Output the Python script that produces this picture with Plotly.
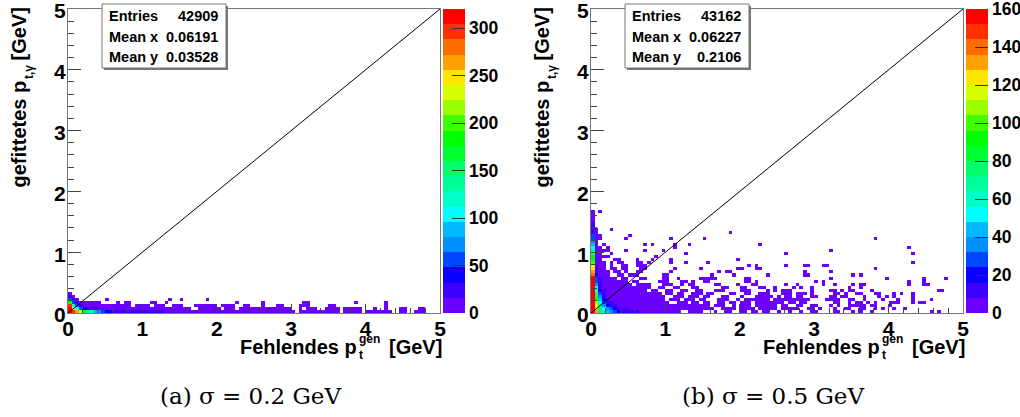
import plotly.graph_objects as go

W, H = 1020, 417
N_BINS = 100
BIN = 0.05

PALETTE = ["#6a00ff", "#3d00ff", "#0a00ff", "#0048ff", "#0090ff", "#00b8ff", "#00ffff", "#00ffc8",
           "#00ff9a", "#00ff6a", "#00ff30", "#00ff00", "#40ff00", "#9cff00", "#d8ff00", "#ffe600",
           "#ffa000", "#ff6c00", "#ff3000", "#ff0000"]

# ---- left panel (sigma = 0.2 GeV): runs of occupied bins per y-bin row
LEFT_RUNS = {
    0: [(0, 60), (62, 72), (74, 78), (80, 84), (85, 86), (89, 90), (93, 95)],
    1: [(0, 32), (35, 40), (42, 44), (46, 48), (49, 51), (52, 55), (56, 59), (62, 62), (64, 66), (69, 72),
        (74, 75), (76, 78), (82, 82), (85, 85), (89, 90), (94, 95)],
    2: [(0, 10), (12, 16), (18, 21), (23, 25), (28, 30), (34, 39), (41, 44), (47, 48), (52, 52), (56, 57),
        (62, 64), (70, 71), (85, 85)],
    3: [(0, 8), (13, 13), (15, 16), (22, 23), (26, 26), (45, 45), (52, 52), (63, 64), (77, 77), (85, 85)],
    4: [(0, 2), (10, 10), (27, 27), (30, 30), (37, 37)],
    5: [(0, 1)],
    6: [(0, 0)],
}
# columns listed from y-bin 0 upward
LEFT_COLUMNS = {
    0: [320, 320, 300, 180, 60, 25, 12],
    1: [300, 240, 100, 60, 25, 14],
    2: [270, 110, 50, 20, 10],
    3: [225, 55, 25, 10],
    4: [175, 40, 14, 8],
    5: [135, 28, 10, 6],
    6: [115, 20, 8, 4],
    7: [90, 16, 6, 3],
    8: [75, 14, 6, 3],
    9: [60, 12, 5],
    10: [45, 10, 4],
    11: [35, 9, 3],
    12: [30, 8, 3],
    13: [26, 7, 3],
    14: [24, 7, 3],
    15: [22, 6, 3],
    16: [20, 6, 3],
    17: [20, 6],
    18: [19, 6, 2],
    19: [18, 5, 2],
    20: [18, 5, 2],
    21: [17, 5, 2],
    22: [17, 5],
    23: [16, 5, 2],
    24: [16, 4, 2],
    25: [16, 4, 2],
    26: [15, 4],
    27: [15, 4],
    28: [15, 4, 2],
    29: [14, 4, 2],
    30: [14, 4, 2],
}
LEFT_DEFAULT = 5

# ---- right panel (sigma = 0.5 GeV)
RIGHT_RUNS = {
    0: [(10, 23), (26, 29), (33, 33), (36, 37), (40, 41), (43, 44), (46, 47), (50, 50), (53, 53), (56, 56),
        (59, 60), (65, 66), (70, 70), (72, 72), (75, 75), (91, 91), (93, 93)],
    1: [(10, 32), (35, 38), (40, 43), (45, 49), (51, 53), (54, 55), (58, 59), (61, 61), (65, 65),
        (68, 69), (72, 73), (76, 76), (78, 78), (81, 81), (84, 84)],
    2: [(10, 31), (33, 35), (38, 38), (40, 42), (44, 48), (49, 49), (51, 52), (55, 56), (59, 60), (64, 64),
        (66, 66), (69, 71), (72, 73), (75, 76), (80, 80)],
    3: [(10, 20), (23, 25), (27, 28), (30, 31), (34, 35), (37, 38), (40, 42), (44, 49), (50, 51), (53, 54), (56, 57),
        (65, 66), (69, 69), (71, 72), (74, 74), (76, 76), (80, 82), (86, 86), (88, 89)],
    4: [(10, 19), (21, 23), (25, 27), (29, 30), (34, 36), (39, 39), (41, 47), (49, 53), (54, 56), (57, 58), (63, 66),
        (69, 70), (73, 73), (78, 78), (82, 82), (86, 86), (91, 91)],
    5: [(10, 19), (22, 24), (26, 28), (30, 31), (35, 36), (40, 40), (44, 48), (50, 50), (52, 53), (55, 56), (59, 60),
        (64, 65), (67, 68), (73, 73), (77, 77), (79, 79), (81, 81), (86, 86)],
    6: [(10, 18), (20, 21), (23, 24), (27, 29), (31, 32), (37, 38), (41, 42), (45, 47), (51, 53), (55, 57), (59, 59),
        (65, 66), (68, 68), (71, 72), (76, 77), (81, 81), (83, 83), (86, 86)],
    7: [(10, 14), (16, 17), (20, 21), (24, 25), (28, 29), (33, 35), (40, 42), (47, 47), (49, 49), (51, 53),
        (59, 59), (64, 65), (67, 67), (69, 70), (75, 75), (93, 94)],
    8: [(10, 15), (18, 19), (22, 23), (27, 28), (35, 36), (40, 41), (45, 46), (49, 49), (54, 54), (56, 56),
        (59, 59), (69, 69), (72, 72)],
    9: [(9, 10), (12, 15), (19, 21), (24, 24), (26, 27), (33, 34), (39, 39), (43, 44), (52, 52), (55, 55),
        (62, 62), (65, 65), (70, 70), (72, 73), (85, 85), (89, 90)],
    10: [(8, 9), (11, 12), (18, 20), (24, 25), (27, 27), (30, 31), (41, 42), (44, 44), (60, 60), (62, 62),
         (85, 85), (89, 89)],
    11: [(8, 9), (13, 14), (19, 20), (23, 23), (29, 31), (32, 33), (41, 42), (64, 64), (79, 79), (89, 89), (95, 95)],
    12: [(7, 8), (10, 10), (11, 12), (19, 20), (32, 32), (38, 38), (47, 47), (57, 58), (70, 70), (72, 72)],
    13: [(6, 7), (9, 9), (12, 13), (21, 21), (34, 34), (36, 37), (57, 57), (64, 64)],
    14: [(5, 6), (8, 9), (13, 14), (22, 22), (29, 29), (39, 40), (44, 45), (76, 76)],
    15: [(5, 5), (8, 9), (12, 14), (42, 42), (44, 44), (52, 52), (57, 58), (62, 63)],
    16: [(5, 5), (7, 8), (12, 13), (15, 15), (21, 21), (25, 25), (31, 31), (86, 86)],
    17: [(6, 7), (12, 12), (16, 16), (21, 21), (39, 39)],
    18: [(3, 4), (17, 17)],
    19: [(5, 5), (25, 25), (52, 52), (86, 86)],
    20: [(3, 4), (9, 9), (14, 14), (19, 19), (64, 64)],
    21: [(2, 2), (4, 4), (22, 22), (85, 85)],
    22: [(3, 3), (14, 14), (16, 16), (22, 22), (26, 26), (45, 45)],
    24: [(2, 2), (9, 9), (21, 21), (30, 30), (76, 76)],
    25: [(2, 2), (10, 10)],
    26: [(37, 37)],
    27: [(5, 5)],
    33: [(2, 2)],
}
RIGHT_COLUMNS = {
    0: [160, 160, 160, 159, 158, 158, 157, 157, 156, 156, 155, 155, 142, 132, 126, 120, 100, 95, 90, 72, 66, 60,
        42, 36, 32, 28, 16, 14, 12, 10, 8, 5, 4, 3],
    1: [130, 125, 115, 105, 95, 85, 70, 60, 50, 40, 32, 26, 20, 16, 12, 10, 8, 7, 6, 5, 5, 4, 4, 3, 3, 2, 2, 1],
    2: [80, 75, 65, 55, 45, 35, 28, 22, 15, 13, 11, 9, 8, 7, 6, 5, 4, 3, 3, 2, 2],
    3: [60, 50, 40, 30, 22, 16, 11, 9, 7, 6, 5, 4, 3, 2, 2, 1, 1],
    4: [45, 38, 24, 15, 11, 8, 6, 5, 4, 3, 3, 2, 2, 1],
    5: [35, 26, 14, 10, 7, 5, 4, 3, 3, 2, 2, 1],
    6: [26, 18, 10, 7, 5, 4, 3, 2, 2, 1, 1, 1],
    7: [20, 13, 8, 5, 4, 3, 3, 2, 2, 1, 1],
    8: [14, 10, 7, 4, 3, 3, 2, 2, 1, 1],
    9: [12, 9, 6, 4, 3, 2, 2, 1, 1],
    10: [11, 8, 5, 3, 2, 2, 1, 1],
    11: [10, 7, 4, 3, 2, 2, 1],
    12: [9, 6, 4, 2, 2, 1],
    13: [8, 5, 3, 2, 1, 1],
    14: [8, 5, 3, 2, 1],
    15: [7, 4, 3, 2, 1],
    16: [7, 4, 2, 2],
}
RIGHT_DEFAULT = 1

DIAG_X = [0, 5]
DIAG_Y = [0, 5]

LEFT_TICKS = [0, 50, 100, 150, 200, 250, 300]
RIGHT_TICKS = [0, 20, 40, 60, 80, 100, 120, 140, 160]
LEFT_ZMAX, RIGHT_ZMAX = 320, 160.1

LEFT_STATS = [("Entries", "42909"), ("Mean x", "0.06191"), ("Mean y", "0.03528")]
RIGHT_STATS = [("Entries", "43162"), ("Mean x", "0.06227"), ("Mean y", "0.2106")]
CAPTIONS = ["(a) σ = 0.2 GeV", "(b) σ = 0.5 GeV"]
AXIS_TICKS = [0, 1, 2, 3, 4, 5]


def px(x):
    return x / W


def py(y):
    return 1 - y / H


def build(runs, columns, default):
    z = [[None] * N_BINS for _ in range(N_BINS)]
    for row, segs in runs.items():
        for a, b in segs:
            for c in range(a, b + 1):
                z[row][c] = default
    for col, vals in columns.items():
        for row, v in enumerate(vals):
            z[row][col] = v
    return z


centers = [(i + 0.5) * BIN for i in range(N_BINS)]
colorscale = []
for i, c in enumerate(PALETTE):
    colorscale += [[i / 20, c], [(i + 1) / 20, c]]

FONT = "Liberation Sans"
AX_COL = "#777777"
TICK_COL = "#444444"

fig = go.Figure()
PANELS = [
    dict(x0=68, bar=443, ax="x", ay="y", runs=LEFT_RUNS, cols=LEFT_COLUMNS, d=LEFT_DEFAULT, zmax=LEFT_ZMAX,
         ticks=LEFT_TICKS, stats=LEFT_STATS, cap=CAPTIONS[0], capx=250),
    dict(x0=591, bar=966, ax="x2", ay="y2", runs=RIGHT_RUNS, cols=RIGHT_COLUMNS, d=RIGHT_DEFAULT, zmax=RIGHT_ZMAX,
         ticks=RIGHT_TICKS, stats=RIGHT_STATS, cap=CAPTIONS[1], capx=773),
]
Y_TOP, Y_BOT = 9, 313
PW = 372
shapes, annots = [], []

for p in PANELS:
    fig.add_trace(go.Heatmap(
        x=centers, y=centers, z=build(p["runs"], p["cols"], p["d"]),
        xaxis=p["ax"], yaxis=p["ay"], zmin=0, zmax=p["zmax"], colorscale=colorscale, hoverongaps=False,
        colorbar=dict(
            x=px(p["bar"]), xanchor="left", y=py(Y_BOT), yanchor="bottom", lenmode="pixels", len=Y_BOT - Y_TOP,
            thicknessmode="pixels", thickness=22, xpad=0, ypad=0, outlinewidth=0, ticks="inside", ticklen=13,
            tickwidth=1, tickcolor="#333333", tickmode="array", tickvals=p["ticks"], ticktext=[str(t) for t in p["ticks"]],
            ticklabeloverflow="allow",
            tickfont=dict(family=FONT, size=17.5, color="black", weight=700),
        ),
    ))
    fig.add_trace(go.Scatter(x=DIAG_X, y=DIAG_Y, mode="lines", xaxis=p["ax"], yaxis=p["ay"],
                             line=dict(color="black", width=1), showlegend=False, hoverinfo="skip"))
    x0 = p["x0"]
    # stats box with its shadow
    bx0, bx1 = x0 + 34, x0 + 158
    by0, by1 = 4, 68
    shapes.append(dict(type="rect", xref="paper", yref="paper", x0=px(bx0 + 2), x1=px(bx1 + 2), y0=py(by0 + 2), y1=py(by1 + 2),
                       fillcolor="#777777", line=dict(width=0), layer="above"))
    shapes.append(dict(type="rect", xref="paper", yref="paper", x0=px(bx0), x1=px(bx1), y0=py(by0), y1=py(by1),
                       fillcolor="white", line=dict(color="#777777", width=1), layer="above"))
    for (name, val), yy in zip(p["stats"], [16, 37, 57]):
        annots.append(dict(x=px(bx0 + 5), y=py(yy), text=name, xanchor="left"))
        annots.append(dict(x=px(bx1 - 6), y=py(yy), text=val, xanchor="right"))
    annots[-6:] = [dict(a, xref="paper", yref="paper", yanchor="middle", showarrow=False,
                        font=dict(family=FONT, size=14.5, color="black", weight=700)) for a in annots[-6:]]
    # x title pieces
    tf = dict(family=FONT, size=20, color="black", weight=700)
    small = dict(family=FONT, size=12, color="black", weight=700)
    base = dict(xref="paper", yref="paper", showarrow=False)
    annots.append(dict(base, x=px(x0 + 291), y=py(347), text="Fehlendes p", xanchor="right", yanchor="middle", font=tf))
    annots.append(dict(base, x=px(x0 + 289), y=py(339), text="gen", xanchor="left", yanchor="middle", font=small))
    annots.append(dict(base, x=px(x0 + 289), y=py(355), text="t", xanchor="left", yanchor="middle", font=small))
    annots.append(dict(base, x=px(x0 + 376), y=py(347), text="[GeV]", xanchor="right", yanchor="middle", font=tf))
    # y title pieces
    yt = x0 - 50
    annots.append(dict(base, x=px(yt), y=py(190), text="gefittetes p", textangle=-90, xanchor="center", yanchor="bottom", font=tf))
    annots.append(dict(base, x=px(yt + 11), y=py(81), text="t,γ", textangle=-90, xanchor="center", yanchor="bottom", font=small))
    annots.append(dict(base, x=px(yt), y=py(6), text="[GeV]", textangle=-90, xanchor="center", yanchor="top", font=tf))
    # caption
    annots.append(dict(base, x=px(p["capx"]), y=py(396), text=p["cap"], xanchor="center", yanchor="middle",
                       font=dict(family="DejaVu Serif", size=23, color="black")))

    axis_common = dict(range=[0, 5], tickmode="array", tickvals=AXIS_TICKS, ticktext=[str(t) for t in AXIS_TICKS],
                       showgrid=False, zeroline=False, showline=True, linecolor=AX_COL, linewidth=1, mirror=True,
                       ticks="inside", tickwidth=1, tickcolor=TICK_COL, automargin=False, ticklabeloverflow="allow",
                       tickfont=dict(family=FONT, size=21, color="black", weight=700), ticklabelstandoff=-3)
    suffix = p["ax"][1:]
    fig.update_layout({
        "xaxis" + suffix: dict(axis_common, domain=[px(x0), px(x0 + PW)], anchor=p["ay"], ticklen=9,
                               minor=dict(dtick=0.2, ticks="inside", ticklen=5, tickwidth=1, tickcolor=TICK_COL, showgrid=False)),
        "yaxis" + suffix: dict(axis_common, domain=[py(Y_BOT), py(Y_TOP)], anchor=p["ax"], ticklen=13, ticklabelshift=2,
                               minor=dict(dtick=0.2, ticks="inside", ticklen=6, tickwidth=1, tickcolor=TICK_COL, showgrid=False)),
    })

fig.update_layout(width=W, height=H, margin=dict(l=0, r=0, t=0, b=0, autoexpand=False), paper_bgcolor="white",
                  plot_bgcolor="white", showlegend=False, shapes=shapes, annotations=annots)
fig.write_html("out.html", config=dict(displayModeBar=False),
               post_script="document.body.style.margin='0';document.body.style.overflow='hidden';")
